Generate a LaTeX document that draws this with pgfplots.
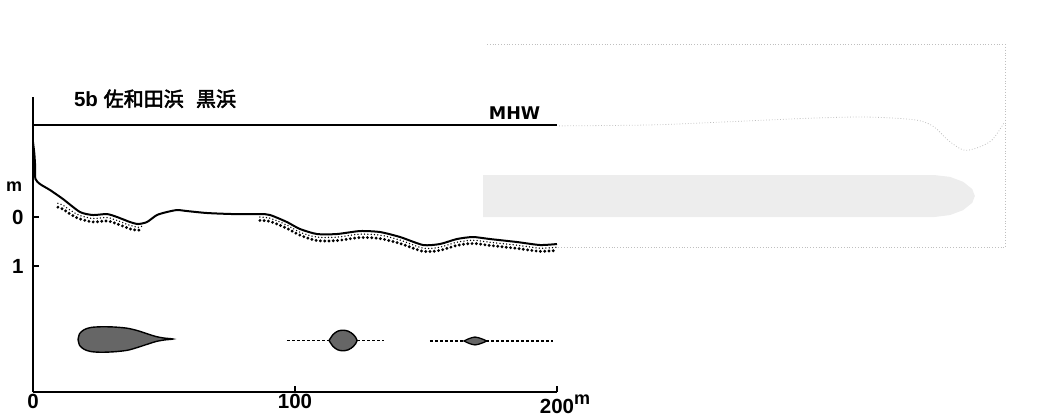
\documentclass[border=0pt]{standalone}
\usepackage{pgfplots}
\pgfplotsset{compat=1.18}
\usepackage{fontspec}
\setmainfont{Liberation Sans}
\newfontfamily\cjk{Noto Sans CJK JP}[AutoFakeBold=2.5]
\newfontfamily\dejavu{DejaVu Sans}
\begin{document}
\begin{tikzpicture}
\begin{axis}[
  scale only axis, width=524pt, height=295pt,
  xmin=0, xmax=200, ymin=-3.571, ymax=2.45,
  clip=false,
  axis x line*=bottom, axis y line*=left,
  axis line style={-, line width=2.1pt},
  xtick={0,100,200},
  xticklabels={0,100,{200\rlap{\raisebox{0.45em}{\fontsize{18}{18}\selectfont m}}}},
  ytick={-1,0}, yticklabels={1,0},
  tick align=inside, major tick length=6pt,
  tick style={line width=1.6pt, black},
  ticklabel style={font=\bfseries\fontsize{20.5}{20.5}\selectfont},
  yticklabel style={xshift=-6pt},
  xticklabel style={yshift=1pt},
]
% bounding box of the page
\path (axis cs:-12.6,-4.14) rectangle (axis cs:383.6,4.43);

% ghost (bleed-through) elements
\addplot[gray!50, dotted, line width=0.8pt] coordinates {(173.3,3.53) (371,3.53) (371,-0.63)};
\addplot[gray!50, dotted, line width=0.8pt] coordinates {(200.5,-0.61) (371,-0.61)};
\addplot[gray!50, dotted, line width=0.8pt, smooth] coordinates {
(200.8,1.86) (235.9,1.88) (263.7,1.94) (298.1,2.02) (319.1,2.04) (337.0,1.98)
(343.9,1.84) (349.2,1.57) (355,1.37) (360.3,1.41) (366,1.57) (370.6,1.92)};
\addplot[draw=none, fill=gray!14] coordinates {
(171.8,0.857) (344,0.857) (350,0.82) (355,0.72) (358.5,0.57) (359.5,0.43)
(358.5,0.29) (355,0.14) (350,0.04) (344,0) (171.8,0)} -- cycle;

% MHW line
\addplot[black, line width=2pt] coordinates {(0,1.88) (200,1.88)};

% profile
\addplot[black, line width=2pt, smooth, tension=0.4] coordinates {
(0,1.53) (0.5,1.3) (0.8,1.05) (0.9,0.78) (2.67,0.673) (6.49,0.551) (11.45,0.367)
(17.94,0.102) (22.9,0.041) (28.2,0.061) (32.1,0) (37.0,-0.102) (40.1,-0.143)
(43.5,-0.102) (47.3,0.041) (51.1,0.102) (55.0,0.143) (58.8,0.122) (66.4,0.082)
(76.3,0.061) (86.6,0.061) (90.5,0.041) (96.9,-0.102) (101.9,-0.245) (108.4,-0.347)
(116.0,-0.347) (124.8,-0.286) (132.4,-0.306) (140.1,-0.408) (148.9,-0.571)
(155.3,-0.551) (161.8,-0.449) (167.9,-0.408) (174.4,-0.449) (184.7,-0.510)
(193.5,-0.571) (200,-0.551)};

% heavy dotted layer
\addplot[black, line width=3.2pt, line cap=round, dash pattern=on 0pt off 4.3pt, smooth] coordinates {
(9.5,0.20) (11.45,0.16) (14.5,0.05) (17.94,-0.04) (22.9,-0.10) (28.2,-0.08)
(32.1,-0.14) (37.0,-0.24) (40.1,-0.27) (41.5,-0.25)};
\addplot[black, line width=3.2pt, line cap=round, dash pattern=on 0pt off 4.3pt, smooth] coordinates {
(86.6,-0.07) (90.5,-0.09) (96.9,-0.23) (101.9,-0.37) (108.4,-0.48) (116.0,-0.48)
(124.8,-0.42) (132.4,-0.44) (140.1,-0.54) (148.9,-0.70) (155.3,-0.68) (161.8,-0.58)
(167.9,-0.54) (174.4,-0.58) (184.7,-0.64) (193.5,-0.70) (200,-0.68)};
% fine dotted layer
\addplot[black, line width=1.5pt, line cap=round, dash pattern=on 0pt off 3.3pt, smooth] coordinates {
(9.5,0.28) (11.45,0.24) (14.5,0.13) (17.94,0.03) (22.9,-0.03) (28.2,-0.01)
(32.1,-0.07) (37.0,-0.17) (40.1,-0.21) (41.5,-0.19)};
\addplot[black, line width=1.5pt, line cap=round, dash pattern=on 0pt off 3.3pt, smooth] coordinates {
(86.6,0.0) (90.5,-0.025) (96.9,-0.165) (101.9,-0.31) (108.4,-0.41) (116.0,-0.41)
(124.8,-0.35) (132.4,-0.37) (140.1,-0.47) (148.9,-0.635) (155.3,-0.615) (161.8,-0.515)
(167.9,-0.475) (174.4,-0.515) (184.7,-0.575) (193.5,-0.635) (200,-0.615)};

% vegetation blobs
\addplot[black, line width=1.4pt, fill=black!60, smooth] coordinates {
(17.2,-2.50) (17.8,-2.38) (19.5,-2.30) (22,-2.255) (26,-2.24) (31,-2.245) (36,-2.27)
(40,-2.32) (44,-2.39) (47,-2.44) (50,-2.47) (53.4,-2.49) (50,-2.51) (47,-2.54)
(44,-2.59) (40,-2.66) (36,-2.72) (31,-2.75) (26,-2.76) (22,-2.745) (19.5,-2.70)
(17.8,-2.62) (17.2,-2.50)} -- cycle;
\addplot[black, line width=1.1pt, densely dashed] coordinates {(96.9,-2.52) (113.0,-2.52)};
\addplot[black, line width=1.1pt, densely dashed] coordinates {(123.7,-2.52) (134.0,-2.52)};
\addplot[black, line width=1.4pt, fill=black!60, smooth] coordinates {
(113.0,-2.52) (114.5,-2.40) (116.3,-2.33) (118.3,-2.31) (120.3,-2.33) (122.3,-2.40)
(123.7,-2.52) (122.3,-2.64) (120.3,-2.71) (118.3,-2.73) (116.3,-2.71) (114.5,-2.64)
(113.0,-2.52)} -- cycle;
\addplot[black, line width=1.1pt, densely dashed] coordinates {(151.5,-2.53) (164.5,-2.53)};
\addplot[black, line width=1.1pt, densely dashed] coordinates {(172.9,-2.53) (198.5,-2.53)};
\addplot[black, line width=1.3pt, fill=black!60, smooth] coordinates {
(164.5,-2.53) (166.5,-2.48) (168.7,-2.45) (171,-2.48) (172.9,-2.53) (171,-2.58)
(168.7,-2.61) (166.5,-2.58) (164.5,-2.53)} -- cycle;

% texts
\node[anchor=base west, font=\bfseries\fontsize{20.5}{20.5}\selectfont, inner sep=0pt]
  at (axis cs:15.6,2.26) {5b {\cjk\fontsize{20}{20}\selectfont 佐和田浜}\hspace{0.6em}{\cjk\fontsize{20}{20}\selectfont 黒浜}};
\node[font=\dejavu\bfseries\fontsize{17.5}{17.5}\selectfont, inner sep=0pt]
  at (axis cs:183.8,2.13) {MHW};
\node[font=\bfseries\fontsize{18}{18}\selectfont, inner sep=0pt]
  at (axis cs:-7.25,0.63) {m};
\end{axis}
\end{tikzpicture}
\end{document}
